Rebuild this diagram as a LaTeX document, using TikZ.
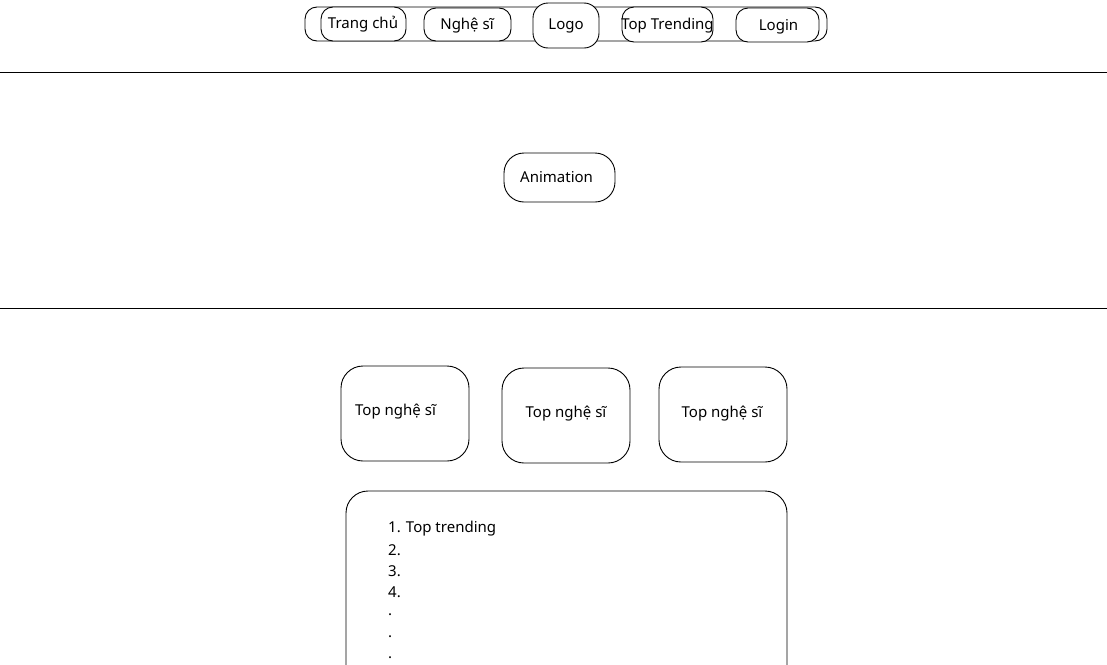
\documentclass[tikz,border=0pt]{standalone}
\usepackage{fontspec}
\setmainfont{Noto Sans}
\begin{document}
\begin{tikzpicture}[x=1pt,y=-1pt,
  box/.style={draw=black,line width=0.9pt,fill=white,rounded corners=#1},
  box/.default=12pt,
  lbl/.style={font=\fontsize{15}{18}\selectfont,inner sep=0pt},
  sep/.style={draw=black,line width=0.9pt}]
\useasboundingbox (0,0) rectangle (1107,664);
% nav bar
\draw[box=12pt] (305,7) rectangle (827,41);
\draw[box=12pt] (321,7) rectangle (406,41);
\node[lbl] (trang) at (363,24.5) {Trang chủ};
\draw[box=12pt] (424,8) rectangle (511,41);
\node[lbl] (nghe) at (467,26) {Nghệ sĩ};
\draw[box=15pt] (533,3) rectangle (599,48);
\node[lbl] (logo) at (566,25.5) {Logo};
\draw[box=12pt] (622,7) rectangle (713,42);
\node[lbl] (toptr) at (667.5,26) {Top Trending};
\draw[box=12pt] (736,8) rectangle (819,42);
\node[lbl] (login) at (778.5,26.5) {Login};
% separators
\coordinate (l1a) at (0,72); \coordinate (l1b) at (1107,72);
\draw[sep] (l1a) -- (l1b);
\coordinate (l2a) at (0,308); \coordinate (l2b) at (1107,308);
\draw[sep] (l2a) -- (l2b);
% animation
\draw[box=20pt] (504,153) rectangle (615,202);
\node[lbl,anchor=west] (anim) at (520,177) {Animation};
% top nghe si
\draw[box=22pt] (341,366) rectangle (469,461);
\node[lbl,anchor=west] (t1) at (355,411.5) {Top nghệ sĩ};
\draw[box=22pt] (502,368) rectangle (630,463);
\node[lbl] (t2) at (566,413.5) {Top nghệ sĩ};
\draw[box=22pt] (659,367) rectangle (787,462);
\node[lbl] (t3) at (722,413.5) {Top nghệ sĩ};
% list
\draw[box=22pt] (346,491) rectangle (787,700);
\node[lbl,anchor=west] (i1) at (388,529) {1. Top trending};
\node[lbl,anchor=west] (i2) at (388,550.5) {2.};
\node[lbl,anchor=west] (i3) at (388,571.5) {3.};
\node[lbl,anchor=west] (i4) at (388,592.5) {4.};
\node[lbl,anchor=west] (i5) at (388,614.5) {.};
\node[lbl,anchor=west] (i6) at (388,636.5) {.};
\node[lbl,anchor=west] (i7) at (388,657.5) {.};
\end{tikzpicture}
\end{document}
